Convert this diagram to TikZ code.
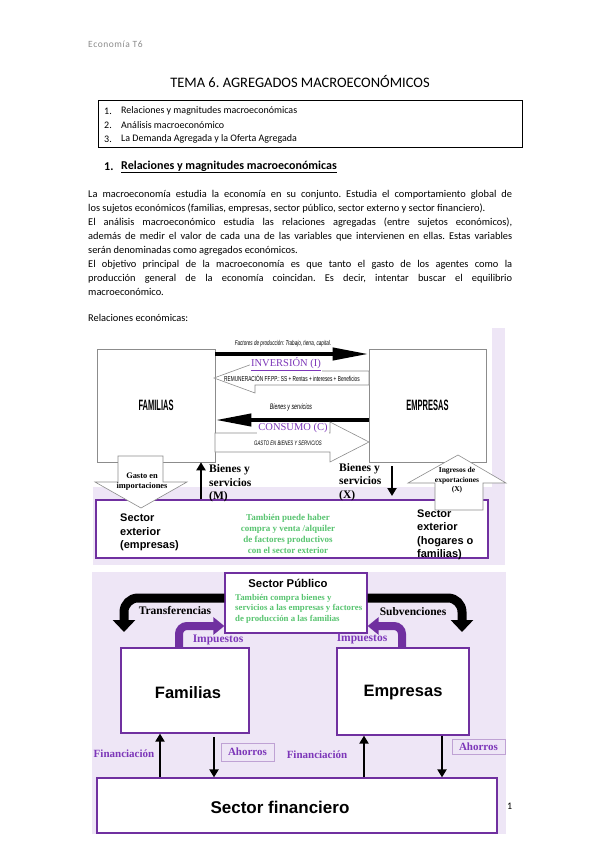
\documentclass[tikz,border=0pt]{standalone}
\usepackage{fontspec}
\setmainfont{Carlito}
\newfontfamily\arialf{Liberation Sans}
\newfontfamily\narrowf{Liberation Sans}[FakeStretch=0.5]
\newfontfamily\condf{Liberation Sans}[FakeStretch=0.66]
\newfontfamily\cambf{Liberation Serif}
\newfontfamily\hdrf{Carlito}[LetterSpace=6]
\usetikzlibrary{arrows.meta,positioning}
\definecolor{lavbg}{RGB}{238,230,246}
\definecolor{purpline}{RGB}{112,48,160}
\definecolor{purptext}{RGB}{125,55,185}
\definecolor{greentext}{RGB}{88,196,112}
\definecolor{hdrgray}{RGB}{140,140,140}
\frenchspacing

\begin{document}
\begin{tikzpicture}[x=1pt, y=-1pt,
    txt/.style={inner sep=0pt, anchor=west},
    ubox/.style={draw=black!45, fill=white, line width=0.6pt, inner sep=0pt},
    pbox/.style={draw=purpline, fill=white, line width=1.2pt, inner sep=0pt},
    hollow/.style={draw=black!45, fill=white, line width=0.6pt},
    seriflbl/.style={font=\cambf\bfseries\fontsize{11.5}{13.5}\selectfont, inner sep=0pt, align=left},
    greenlbl/.style={font=\cambf\bfseries\fontsize{9}{11}\selectfont, text=greentext, inner sep=0pt},
    tinylbl/.style={font=\condf\itshape\fontsize{7.5}{8}\selectfont, inner sep=0pt},
    bigarrow/.style={line width=4pt, -{Triangle[length=36pt,width=12pt]}},
    smallarrow/.style={line width=2.5pt, -{Triangle[length=8pt,width=9pt]}},
    purparrow/.style={draw=purpline, line width=8pt, rounded corners=8pt, -{Triangle[length=11pt,width=17pt]}},
    blackcurve/.style={line width=9pt, rounded corners=14pt, -{Triangle[length=12pt,width=22pt]}}]
  \useasboundingbox[fill=white] (0,0) rectangle (599,848);

  % page header, title, contents
  \node[txt, font=\hdrf\fontsize{9.5}{11}\selectfont, text=hdrgray] (hdr) at (88,44) {Economía T6};
  \node[inner sep=0pt, font=\fontsize{14.5}{16}\selectfont] (title) at (300,82) {TEMA 6. AGREGADOS MACROECONÓMICOS};
  \node[draw, line width=0.6pt, minimum width=424pt, minimum height=47pt, anchor=north west] (toc) at (98,100) {};
  \foreach \t [count=\i] in {Relaciones y magnitudes macroeconómicas, Análisis macroeconómico, La Demanda Agregada y la Oferta Agregada}{
    \node[txt, font=\fontsize{10}{12}\selectfont] (num\i) at (104,97+14*\i) {\i.};
    \node[txt, font=\fontsize{10}{12}\selectfont] (toc\i) at (121,97+14*\i) {\t};
  }
  \node[txt, font=\bfseries\fontsize{12}{14}\selectfont] (secnum) at (104,167) {1.};
  \node[txt, font=\bfseries\fontsize{12}{14}\selectfont] (sectitle) at (121,167) {\underline{Relaciones y magnitudes macroeconómicas}};

  % body text
  \node[anchor=north west, inner sep=0pt, text width=424pt, align=justify,
        font=\fontsize{10.4}{13.9}\selectfont] (para) at (88,190.5)
    {\hyphenpenalty=10000\parindent=0pt
     La macroeconomía estudia la economía en su conjunto. Estudia el comportamiento global de\linebreak
     los sujetos económicos (familias, empresas, sector público, sector externo y sector financiero).\par
     El análisis macroeconómico estudia las relaciones agregadas (entre sujetos económicos),\linebreak
     además de medir el valor de cada una de las variables que intervienen en ellas. Estas variables\linebreak
     serán denominadas como agregados económicos.\par
     El objetivo principal de la macroeconomía es que tanto el gasto de los agentes como la\linebreak
     producción general de la economía coincidan. Es decir, intentar buscar el equilibrio\linebreak
     macroeconómico.};
  \node[txt, font=\fontsize{10.4}{12}\selectfont] (relec) at (88,318) {Relaciones económicas:};

  % upper picture: circular flow
  \fill[lavbg] (93,328) rectangle (505,565);
  \fill[white] (93,328) rectangle (492,487);
  \node[ubox, minimum width=118pt, minimum height=113pt, font=\narrowf\bfseries\fontsize{15}{15}\selectfont] (fam) at (156,405.5) {FAMILIAS};
  \node[ubox, minimum width=117pt, minimum height=113pt, font=\narrowf\bfseries\fontsize{15}{15}\selectfont] (emp) at (427.5,405.5) {EMPRESAS};

  \coordinate (yfact) at (0,354);
  \coordinate (ybien) at (0,420);
  \draw[bigarrow] (fam.east |- yfact) -- (emp.west |- yfact);
  \node[tinylbl, font=\condf\itshape\fontsize{7}{8}\selectfont] (facttxt) at (283,344) {Factores de producción: Trabajo, tierra, capital.};
  \draw[hollow] (369,371) -- (255,371) -- (255,363) -- (214,378) -- (255,393) -- (255,385) -- (369,385) -- cycle;
  \node[fill=white, inner sep=1pt, font=\cambf\fontsize{10.5}{12}\selectfont, text=purptext] (inv) at (286,364) {\underline{INVERSIÓN (I)}};
  \node[tinylbl, font=\condf\fontsize{7.2}{8}\selectfont] (remtxt) at (292,378) {REMUNERACIÓN FF.PP.: SS + Rentas + intereses + Beneficios};
  \node[tinylbl, font=\condf\itshape\fontsize{8}{9}\selectfont] (bientxt) at (291,407) {Bienes y servicios};
  \draw[bigarrow] (emp.west |- ybien) -- (fam.east |- ybien);
  \draw[hollow] (215,433) -- (330,433) -- (330,422) -- (369,442) -- (330,462) -- (330,452) -- (215,452) -- cycle;
  \node[fill=white, inner sep=1pt, font=\cambf\fontsize{10.5}{12}\selectfont, text=purptext] (cons) at (293,428) {CONSUMO (C)};
  \node[tinylbl, font=\condf\itshape\fontsize{6.5}{8}\selectfont] (gastotxt) at (288,443) {GASTO EN BIENES Y SERVICIOS};

  \node[pbox, minimum width=392pt, minimum height=58pt] (sext) at (292,529) {};
  \node[txt, font=\arialf\bfseries\fontsize{11}{13.5}\selectfont, align=left] (sextl) at (120,532.5) {Sector\\exterior\\(empresas)};
  \node[txt, font=\arialf\bfseries\fontsize{11}{13.5}\selectfont, align=left] (sextr) at (417,535) {Sector\\exterior\\(hogares o\\familias)};
  \node[greenlbl, align=center] (factext) at (288,533.5) {También puede haber\\compra y venta /alquiler\\de factores productivos\\con el sector exterior};

  \draw[hollow] (118,456) -- (163,456) -- (163,482) -- (187,482) -- (141,508) -- (95,482) -- (118,482) -- cycle;
  \node[font=\cambf\bfseries\fontsize{8.4}{10}\selectfont, inner sep=0pt, align=center] (imptxt) at (142,482) {Gasto en\\importaciones};
  \draw[hollow] (435,510) -- (435,483) -- (408,483) -- (458,455) -- (506,483) -- (483,483) -- (483,510) -- cycle;
  \node[font=\cambf\bfseries\fontsize{7.5}{9.5}\selectfont, inner sep=0pt, align=center] (exptxt) at (457,480.5) {Ingresos de\\exportaciones\\(X)};

  \coordinate (xm) at (201,0);
  \draw[smallarrow] (sext.north -| xm) -- (fam.south -| xm);
  \node[seriflbl, anchor=west] (bsm) at (209,483.5) {Bienes y\\servicios\\(M)};
  \draw[smallarrow] (392,466) -- (392,496);
  \node[seriflbl, anchor=west] (bsx) at (339,482) {Bienes y\\servicios\\(X)};

  % lower picture: public and financial sector
  \fill[lavbg] (92,572) rectangle (506,834);
  \node[pbox, minimum width=142pt, minimum height=60pt] (sp) at (296,603) {};
  \node[font=\arialf\bfseries\fontsize{11.3}{13}\selectfont, inner sep=0pt] (sptitle) at (288,583) {Sector Público};
  \node[greenlbl, txt, font=\cambf\bfseries\fontsize{8.8}{10.5}\selectfont, align=left] (sptxt) at (235,608.5) {También compra bienes y\\servicios a las empresas y factores\\de producción a las familias};

  \coordinate (ytrans) at (0,598);
  \coordinate (yimp) at (0,626);
  \draw[blackcurve] (sp.west |- ytrans) -- (124,598) -- (124,632);
  \draw[blackcurve] (sp.east |- ytrans) -- (462,598) -- (462,632);
  \node[seriflbl] (trans) at (175,611) {Transferencias};
  \node[seriflbl] (subv) at (413,612) {Subvenciones};

  \node[pbox, minimum width=128pt, minimum height=85pt] (fam2) at (185,690.5) {};
  \node[font=\arialf\bfseries\fontsize{16.5}{18}\selectfont, inner sep=0pt] (fam2txt) at (188,693) {Familias};
  \node[pbox, minimum width=132pt, minimum height=87pt] (emp2) at (403,691.5) {};
  \node[font=\arialf\bfseries\fontsize{16.5}{18}\selectfont, inner sep=0pt] (emp2txt) at (403,693) {Empresas};

  \coordinate (ximpl) at (179,0);
  \coordinate (ximpr) at (402,0);
  \draw[purparrow] (fam2.north -| ximpl) -- (179,626) -- (sp.west |- yimp);
  \draw[purparrow] (emp2.north -| ximpr) -- (402,626) -- (sp.east |- yimp);
  \node[seriflbl, text=purptext] (impl) at (218,640) {Impuestos};
  \node[seriflbl, text=purptext] (impr) at (362,639) {Impuestos};

  \node[pbox, minimum width=400pt, minimum height=55pt] (fin) at (297,805.5) {};
  \node[font=\arialf\bfseries\fontsize{17}{19}\selectfont, inner sep=0pt] (fintxt) at (280,807) {Sector financiero};

  \coordinate (xf1) at (160,0);
  \coordinate (xa1) at (214,0);
  \coordinate (xf2) at (364,0);
  \coordinate (xa2) at (442,0);
  \draw[smallarrow] (fin.north -| xf1) -- (fam2.south -| xf1);
  \draw[smallarrow] (214,737) -- (fin.north -| xa1);
  \draw[smallarrow] (fin.north -| xf2) -- (emp2.south -| xf2);
  \draw[smallarrow] (emp2.south -| xa2) -- (fin.north -| xa2);
  \node[seriflbl, text=purptext, font=\cambf\bfseries\fontsize{11}{13}\selectfont] (fin1) at (124,754) {Financiación};
  \node[seriflbl, text=purptext, font=\cambf\bfseries\fontsize{11}{13}\selectfont] (fin2) at (317,755) {Financiación};
  \node[seriflbl, text=purptext, draw=purpline!45, minimum width=53pt, minimum height=18pt, font=\cambf\bfseries\fontsize{11}{13}\selectfont] (aho1) at (247.5,752) {Ahorros};
  \node[seriflbl, text=purptext, draw=purpline!45, minimum width=53pt, minimum height=15pt, font=\cambf\bfseries\fontsize{11}{13}\selectfont] (aho2) at (478.5,746.5) {Ahorros};

  \node[txt, font=\fontsize{10}{12}\selectfont] (pgnum) at (507,806) {1};
\end{tikzpicture}
\end{document}
